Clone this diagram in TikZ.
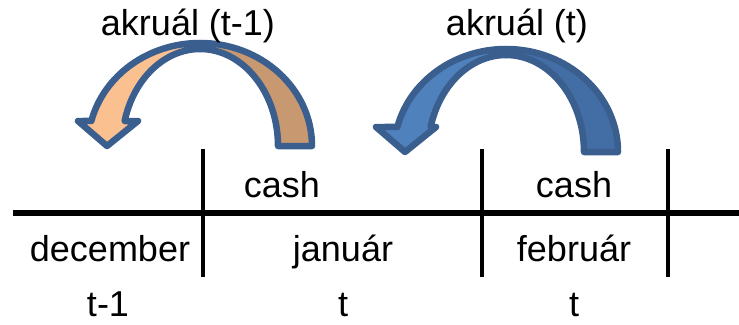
\documentclass[tikz,border=0pt]{standalone}
\usepackage{fontspec}
\setmainfont{Liberation Sans}
\definecolor{outl}{HTML}{3A5E8E}
\definecolor{peach}{HTML}{FAC090}
\definecolor{tan}{HTML}{C89870}
\definecolor{blueL}{HTML}{4F81BD}
\definecolor{blueD}{HTML}{436EA5}
\newcommand\akrarrow[5]{%
  \begin{scope}[shift={(#1,#2)}]
    \path[arrowpart,fill=#4] (0,103) arc[start angle=90,end angle=0,x radius=112,y radius=103]
      -- (78,0) arc[start angle=0,end angle=90,x radius=78,y radius=97] -- cycle;
    \path[arrowpart,fill=#3] (0,103) arc[start angle=90,end angle=165.95,x radius=112,y radius=103]
      -- ({-122+#5},25) -- ({-93+#5},0) -- ({-62+#5},25) -- (-75.36,25)
      arc[start angle=165.06,end angle=90,x radius=78,y radius=97] -- cycle;
  \end{scope}}
\begin{document}
\begin{tikzpicture}[x=1pt,y=1pt,
  lbl/.style={font=\fontsize{36}{40}\selectfont,anchor=base,inner sep=0pt},
  arrowpart/.style={draw=outl,line width=6.5pt,line join=round},
  axis/.style={line width=6pt},
  tick/.style={line width=3.5pt}]
\useasboundingbox (0,-324) rectangle (739,0);
% curved arrows
\akrarrow{200}{-146}{peach}{tan}{0}
\akrarrow{506}{-152}{blueL}{blueD}{-8}
% labels
\node[lbl] (ak1) at (188,-35) {akruál (t-1)};
\node[lbl] (ak2) at (517,-35) {akruál (t)};
% axis and ticks
\coordinate (hl) at (13,-213);
\coordinate (hr) at (739,-213);
\draw[axis] (hl) -- (hr);
\coordinate (v1t) at (203,-149); \coordinate (v1b) at (203,-277);
\coordinate (v2t) at (482,-149); \coordinate (v2b) at (482,-277);
\coordinate (v3t) at (668,-149); \coordinate (v3b) at (668,-277);
\draw[tick] (v1t) -- (v1b);
\draw[tick] (v2t) -- (v2b);
\draw[tick] (v3t) -- (v3b);
% texts
\node[lbl] (cash1) at (282,-197) {cash};
\node[lbl] (cash2) at (574,-197) {cash};
\node[lbl] (dec) at (110,-261) {december};
\node[lbl] (jan) at (343,-261) {január};
\node[lbl] (feb) at (574,-261) {február};
\node[lbl] (p1) at (108,-316) {t-1};
\node[lbl] (p2) at (343,-316) {t};
\node[lbl] (p3) at (574,-316) {t};
\end{tikzpicture}
\end{document}
